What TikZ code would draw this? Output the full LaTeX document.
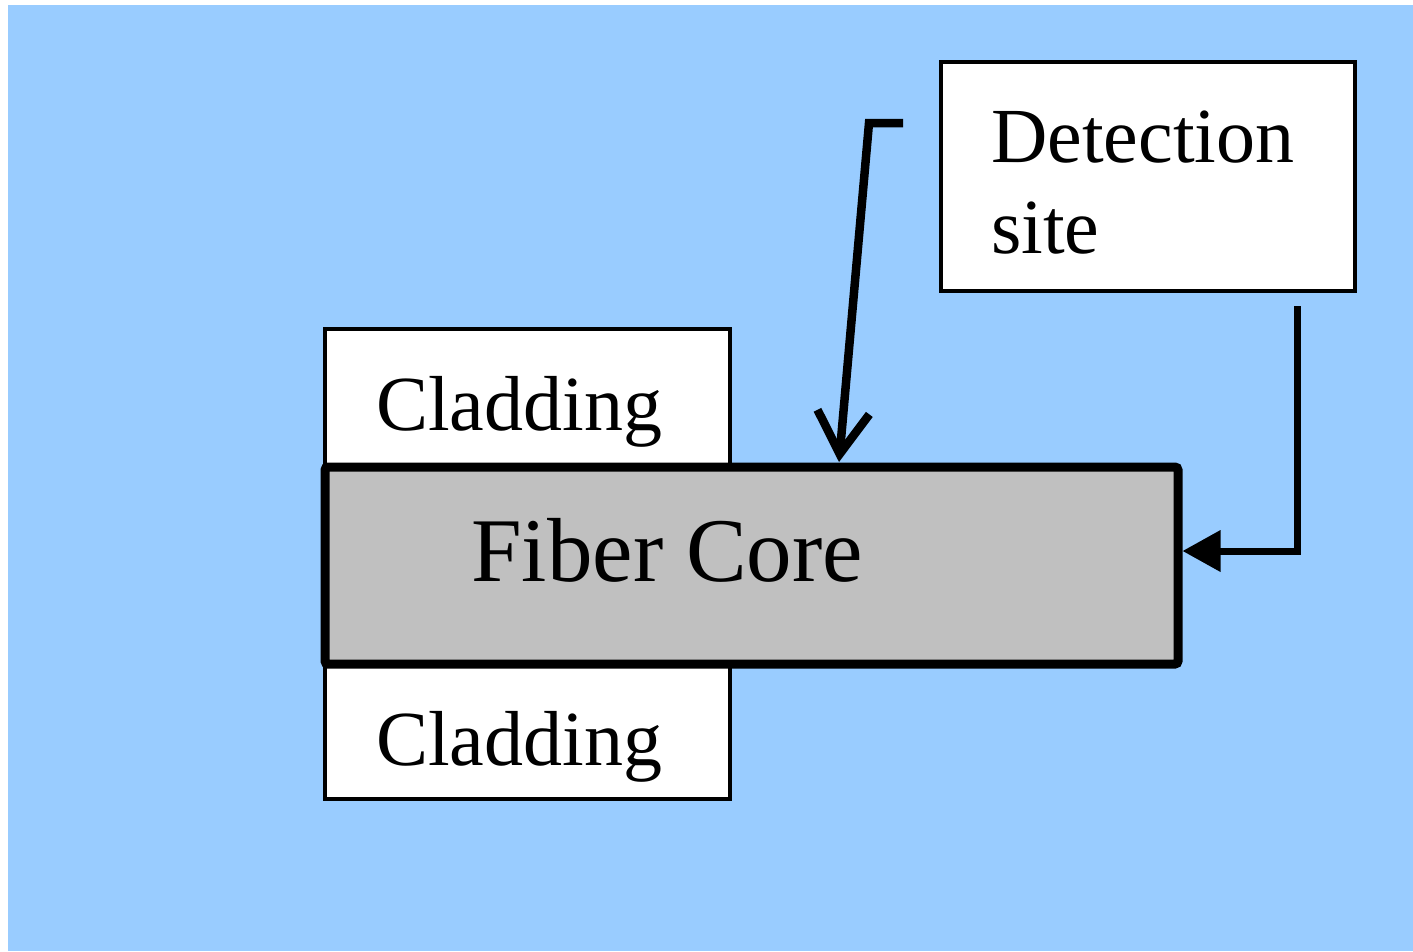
\documentclass[tikz,border=0pt]{standalone}
\usepackage{fontspec}
\setmainfont{Liberation Serif}
\usetikzlibrary{arrows.meta}
\definecolor{skyback}{RGB}{153,204,255}
\definecolor{coregray}{RGB}{192,192,192}
\begin{document}
\begin{tikzpicture}[x=1pt,y=-1pt,
  panel/.style={draw=black, fill=white, line width=4pt, inner sep=0pt,
                outer sep=0pt, anchor=north west},
  corebox/.style={panel, fill=coregray, line width=9pt, rounded corners=3pt},
  txt/.style={inner sep=0pt, anchor=base west, font=\fontsize{78}{90}\selectfont},
  bigtxt/.style={txt, font=\fontsize{91}{100}\selectfont},
  pointer/.style={draw=black, line join=miter}
]
\useasboundingbox (0,0) rectangle (1413,951);
\fill[skyback] (8,5) rectangle (1413,951);

% cladding layers and the core laid over them
\node[panel, minimum width=405pt, minimum height=138pt] (cladTop) at (325,329) {};
\node[panel, minimum width=405pt, minimum height=135pt] (cladBot) at (325,664) {};
\node[corebox, minimum width=853pt, minimum height=197pt] (core) at (325,467) {};

% detection site box
\node[panel, minimum width=414pt, minimum height=229pt] (det) at (941,62) {};

% labels
\node[txt] (cladTopText) at (376,430) {Cladding};
\node[txt] (cladBotText) at (376,765) {Cladding};
\node[bigtxt] (coreText) at (471,581) {Fiber Core};
\node[txt] (detText1) at (991,162) {Detection};
\node[txt] (detText2) at (991,253) {site};

% incoming pointer onto the core surface
\coordinate (tickEnd) at (903,123);
\coordinate (bend) at (869,123);
\path (core.north west) ++(514,-5) coordinate (hitTop);
\draw[pointer, line width=8.5pt,
      -{Straight Barb[length=42pt,width=52pt,line width=8.5pt]}]
  (tickEnd) -- (bend) -- (hitTop);

% return path from the detection site to the core end
\coordinate (src) at (1297,306);
\coordinate (turn) at (1297,551);
\draw[pointer, line width=7pt, -{Triangle[length=38pt,width=40pt]}]
  (src) -- (turn) -- ([xshift=4.5pt]core.east |- turn);
\end{tikzpicture}
\end{document}
